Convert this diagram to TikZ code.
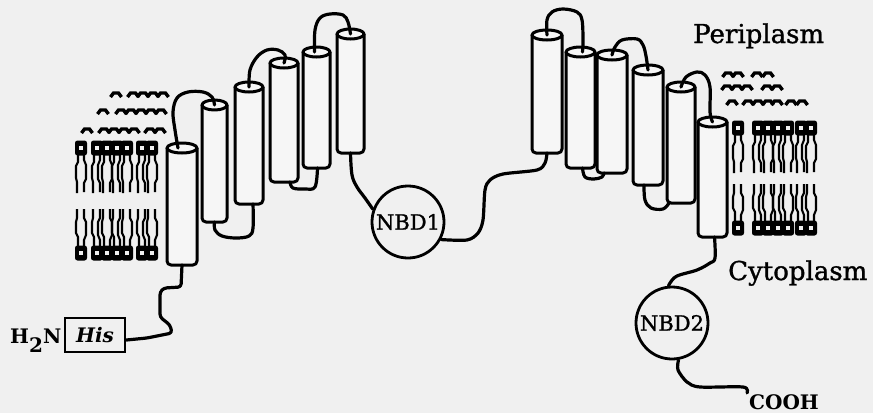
\documentclass[tikz,border=0pt]{standalone}
\usepackage{fontspec}
\setmainfont{DejaVu Serif}
\newfontfamily\heavyserif[FakeBold=1.2]{DejaVu Serif}
\usetikzlibrary{calc}
\definecolor{paper}{RGB}{240,240,240}
\definecolor{cylfill}{RGB}{246,246,246}

% transmembrane helix drawn as a cylinder: name, left, right, outer top, bottom
\newcommand\tmhelix[5]{%
  \pgfmathsetmacro\hcx{(#2+#3)/2}%
  \pgfmathsetmacro\hrx{(#3-#2)/2}%
  \pgfmathsetmacro\hty{#4+5}%
  \filldraw[outline, fill=cylfill, rounded corners=4pt] (#2,\hty) -- (#2,#5) -- (#3,#5) -- (#3,\hty);
  \filldraw[outline, fill=cylfill] (\hcx,\hty) ellipse [x radius=\hrx, y radius=5];
  \coordinate (#1t) at (\hcx,\hty);
  \coordinate (#1b) at (\hcx,#5);
}
% phospholipid head group (ring)
\newcommand\lipidhead[2]{%
  \fill[black, rounded corners=2.5pt] (#1-6,#2-7.5) rectangle (#1+6,#2+7.5);
  \fill[paper] (#1-1.6,#2-2) rectangle (#1+1.6,#2+2);
}
% two fatty-acid tails hanging down (x, start y, wiggle)
\newcommand\tailsdown[3]{%
  \draw[tail] (#1-3,#2) -- ++(0,7) -- ++(-2,4) -- ++(0,12) -- ++(1,4) -- ++(0,11);
  \draw[tail] (#1+3,#2) -- ++(0,5) -- ++(#3,5) -- ++(0,14) -- ++(-#3,4) -- ++(0,9);
}
% two fatty-acid tails rising up (x, start y, wiggle)
\newcommand\tailsup[3]{%
  \draw[tail] (#1-3,#2) -- ++(0,-9) -- ++(-2,-4) -- ++(0,-11) -- ++(1,-4) -- ++(0,-9);
  \draw[tail] (#1+3,#2) -- ++(0,-6) -- ++(#3,-5) -- ++(0,-13) -- ++(-#3,-4) -- ++(0,-9);
}
% small chevron marks of the outer head-group rows
\newcommand\chevrow[2]{%
  \foreach \cx in {#2} {\draw[bump] (\cx-5.5,#1+4) -- (\cx-2.5,#1) -- (\cx+2.5,#1) -- (\cx+5.5,#1+4);}
}

\begin{document}
\begin{tikzpicture}[x=1pt,y=-1pt,
  outline/.style={line width=3pt, line join=round},
  chain/.style={line width=3.2pt, line join=round, line cap=round},
  tail/.style={line width=2.1pt},
  bump/.style={line width=3.4pt, line join=miter},
  nbdcircle/.style={circle, draw, line width=2.8pt, minimum size=72pt, inner sep=0pt,
    fill=paper, font=\heavyserif\fontsize{21}{21}\selectfont},
  regiontext/.style={font=\heavyserif\fontsize{26}{26}\selectfont, inner sep=0pt}]

\fill[paper] (0,0) rectangle (873,413);
\useasboundingbox (0,0) rectangle (873,413);

% ---- left membrane patch ----
\chevrow{93}{116,133,143,153,163}
\chevrow{110}{103,121,131,141,151,161}
\chevrow{129}{87,104,114,124,134,150,160}
\foreach \hx/\w in {81/2,97/-2,107/2,117/-2,127/2,142/-2,152/2} {
  \lipidhead{\hx}{148}
  \tailsdown{\hx}{155}{\w}
  \tailsup{\hx}{246}{\w}
  \lipidhead{\hx}{253}
}

% ---- right membrane patch ----
\chevrow{73}{728,738,757,768}
\chevrow{86}{727,737,747,767,777}
\chevrow{101}{732,748,758,768,777,791,802}
\foreach \hx/\w in {738/2,758/-2,768/2,778/-2,788/2,801/-2,811/2} {
  \lipidhead{\hx}{128}
  \tailsdown{\hx}{135}{\w}
  \tailsup{\hx}{221}{\w}
  \lipidhead{\hx}{228}
}

% ---- transmembrane helices ----
\tmhelix{c1}{167}{197}{143}{265}
\tmhelix{c2}{202}{227}{100}{222}
\tmhelix{c3}{235}{263}{82}{204}
\tmhelix{c4}{270}{298}{58}{182}
\tmhelix{c5}{303}{330}{47}{168}
\tmhelix{c6}{337}{364}{29}{153}
\tmhelix{r1}{532}{562}{30}{153}
\tmhelix{r2}{566}{595}{47}{168}
\tmhelix{r3}{597}{627}{50}{173}
\tmhelix{r4}{633}{663}{65}{185}
\tmhelix{r5}{667}{695}{82}{203}
\tmhelix{r6}{698}{727}{117}{237}

% ---- domains and labels ----
\node[nbdcircle] (nbd1) at (408,222) {NBD1};
\node[nbdcircle] (nbd2) at (672,323) {NBD2};
\node[draw, line width=2.8pt, minimum width=60pt, minimum height=34pt, inner sep=0pt,
  font=\fontsize{20}{20}\selectfont\bfseries\itshape] (his) at (95,335) {His};
\node[anchor=base west, inner sep=0pt, font=\fontsize{20}{20}\selectfont\bfseries]
  (nterm) at (10,343) {H\raisebox{-9pt}{2}N};
\node[anchor=base west, inner sep=0pt, font=\fontsize{20}{20}\selectfont\bfseries]
  (cooh) at (749,409) {COOH};
\node[regiontext, anchor=base west] (peri) at (693,43) {Periplasm};
\node[regiontext, anchor=base west] (cyto) at (728,280) {Cytoplasm};

% ---- connecting loops ----
\draw[chain, rounded corners=3pt] ($(his.east)+(0,5)$) -- (147,338) -- (157,336) -- (172,333)
  -- (170,325) -- (160,317) -- (160,292) -- (164,288) -- (181,287) -- (c1b);
\draw[chain] plot[smooth, tension=0.6] coordinates {([xshift=-4pt]c1t) (175,130) (173,112) (177,98) (188,92) (203,92) (212,97) (c2t)};
\draw[chain] plot[smooth, tension=0.6] coordinates {(c2b) (215,230) (222,236) (236,238) (249,236) (253,228) ([xshift=4pt]c3b)};
\draw[chain] plot[smooth, tension=0.6] coordinates {(c3t) (250,70) (257,57) (267,50) (278,50) (285,55) (c4t)};
\draw[chain] plot[smooth, tension=0.6] coordinates {([xshift=6pt]c4b) (293,188) (305,189) (315,187) ([xshift=1pt]c5b)};
\draw[chain] plot[smooth, tension=0.6] coordinates {([xshift=-2pt]c5t) (315,30) (320,18) (330,14) (343,15) (348,22) (c6t)};
\draw[chain] plot[smooth, tension=0.6] coordinates {(c6b) (352,175) (357,187) (365,198) (nbd1.160)};
\draw[chain] plot[smooth, tension=0.5] coordinates {(nbd1.-28) (467,240) (478,233) (483,220) (485,190) (490,180) (503,174) (537,170) (545,163) (r1b)};
\draw[chain] plot[smooth, tension=0.6] coordinates {(r1t) (547,20) (552,12) (563,9) (577,12) (582,20) (583,40) ([xshift=2pt]r2t)};
\draw[chain] plot[smooth, tension=0.6] coordinates {([xshift=2pt]r2b) (585,177) (594,179) (602,177) ([xshift=-8pt]r3b)};
\draw[chain] plot[smooth, tension=0.6] coordinates {(r3t) (615,47) (622,40) (637,39) (643,45) (646,56) (r4t)};
\draw[chain] plot[smooth, tension=0.6] coordinates {([xshift=-4pt]r4b) (645,200) (651,208) (663,209) ([xshift=-12pt]r5b)};
\draw[chain] plot[smooth, tension=0.6] coordinates {(r5t) (686,77) (697,72) (705,75) (710,87) (710,112) (r6t)};
\draw[chain] plot[smooth, tension=0.6] coordinates {([xshift=2pt]r6b) (715,258) (710,263) (697,270) (677,276) (670,283) (nbd2.95)};
\draw[chain] plot[smooth, tension=0.5] coordinates {(nbd2.-80) (678,370) (687,382) (700,387) (743,387) ($(cooh.north west)+(-2,-1)$)};
\end{tikzpicture}
\end{document}
